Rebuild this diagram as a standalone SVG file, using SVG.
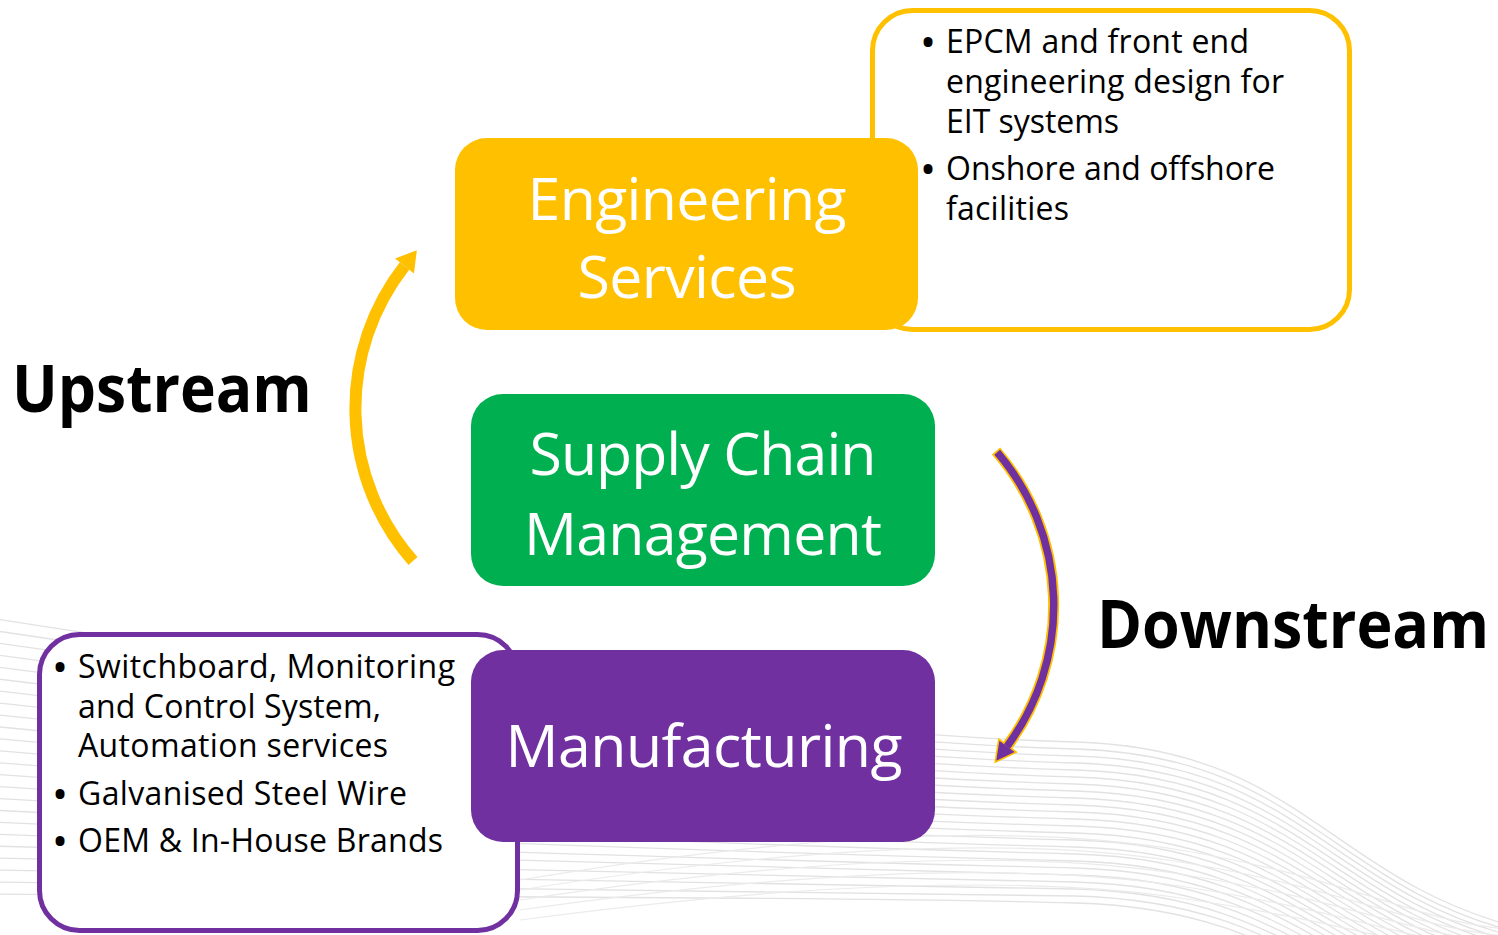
<svg xmlns="http://www.w3.org/2000/svg" width="1498" height="935" viewBox="0 0 1498 935">
  <style>
    .wave { fill: none; stroke: #e2e2e2; stroke-width: 1.3; }
    .wave2 { fill: none; stroke: #ebebeb; stroke-width: 1.2; }
    .box-title { font-family: "Open Sans", "Noto Sans", "Liberation Sans", sans-serif; font-size: 59px; fill: #ffffff; text-anchor: middle; }
    .bullet { font-family: "Open Sans", "Noto Sans", "Liberation Sans", sans-serif; font-size: 32px; fill: #000000; }
    .dot { font-family: "Open Sans", "Noto Sans", "Liberation Sans", sans-serif; font-size: 32px; font-weight: 700; fill: #000000; text-anchor: middle; }
    .side { font-family: "Open Sans", "Noto Sans", "Liberation Sans", sans-serif; font-size: 66px; font-weight: 700; fill: #000000; }
    .outline-yellow { fill: #ffffff; stroke: #FFC000; stroke-width: 5; }
    .outline-purple { fill: #ffffff; stroke: #7030A0; stroke-width: 5; }
  </style>
  <defs>
    <marker id="head-yellow" markerUnits="userSpaceOnUse" orient="auto" refX="0" refY="0" markerWidth="40" markerHeight="40" overflow="visible">
      <path d="M0,-12 L20,0 L0,12 Z" fill="#FFC000"/>
    </marker>
    <marker id="head-purple-edge" markerUnits="userSpaceOnUse" orient="auto" refX="0" refY="0" markerWidth="40" markerHeight="40" overflow="visible">
      <path d="M0,-9.5 L18,0 L0,9.5 Z" fill="#FFC000" stroke="#FFC000" stroke-width="3.2" stroke-linejoin="miter"/>
    </marker>
    <marker id="head-purple" markerUnits="userSpaceOnUse" orient="auto" refX="0" refY="0" markerWidth="40" markerHeight="40" overflow="visible">
      <path d="M0,-9.5 L18,0 L0,9.5 Z" fill="#7030A0"/>
    </marker>
  </defs>

  <rect x="0" y="0" width="1498" height="935" fill="#ffffff"/>

  <!-- faint background ribbon of wave lines -->
  <g id="background">
    <g class="wave">
      <path d="M-10,618 C450,690 850,736 1075,742 S1330,880 1520,928"/>
      <path d="M-10,630 C450,699 850,743 1075,749 S1330,886 1520,933"/>
      <path d="M-10,642 C450,708 850,750 1075,756 S1330,892 1520,938"/>
      <path d="M-10,654 C450,717 850,757 1075,763 S1330,898 1520,943"/>
      <path d="M-10,666 C450,726 850,764 1075,770 S1330,904 1520,948"/>
      <path d="M-10,678 C450,735 850,771 1075,777 S1330,910 1520,953"/>
      <path d="M-10,690 C450,744 850,778 1075,784 S1330,916 1520,958"/>
      <path d="M-10,702 C450,753 850,785 1075,791 S1330,922 1520,963"/>
      <path d="M-10,714 C450,762 850,792 1075,798 S1330,928 1520,968"/>
      <path d="M-10,726 C450,771 850,799 1075,805 S1330,934 1520,973"/>
      <path d="M-10,738 C450,780 850,806 1075,812 S1330,940 1520,978"/>
      <path d="M-10,750 C450,789 850,813 1075,819 S1330,946 1520,983"/>
      <path d="M-10,762 C450,798 850,820 1075,826 S1330,952 1520,988"/>
      <path d="M-10,774 C450,807 850,827 1075,833 S1330,958 1520,993"/>
      <path d="M-10,786 C450,816 850,834 1075,840 S1330,964 1520,998"/>
      <path d="M-10,798 C450,825 850,841 1075,847 S1330,970 1520,1003"/>
      <path d="M-10,810 C450,834 850,848 1075,854 S1330,976 1520,1008"/>
      <path d="M-10,822 C450,843 850,855 1075,861 S1330,982 1520,1013"/>
      <path d="M-10,834 C450,852 850,862 1075,868 S1330,988 1520,1018"/>
      <path d="M-10,846 C450,861 850,869 1075,875 S1330,994 1520,1023"/>
      <path d="M-10,858 C450,870 850,876 1075,882 S1330,1000 1520,1028"/>
      <path d="M-10,870 C450,879 850,883 1075,889 S1330,1006 1520,1033"/>
      <path d="M-10,882 C450,888 850,890 1075,896 S1330,1012 1520,1038"/>
      <path d="M-10,894 C450,897 850,897 1075,903 S1330,1018 1520,1043"/>
    </g>
    <g class="wave2">
      <path d="M520,880 C760,840 1000,820 1180,850 S1420,925 1520,930"/>
      <path d="M520,890 C760,852 1000,833 1180,862 S1420,932 1520,937"/>
      <path d="M520,900 C760,864 1000,846 1180,874 S1420,939 1520,944"/>
      <path d="M520,910 C760,876 1000,859 1180,886 S1420,946 1520,951"/>
      <path d="M520,920 C760,888 1000,872 1180,898 S1420,953 1520,958"/>
    </g>
  </g>

  <!-- detail panels (drawn beneath the coloured blocks) -->
  <g id="engineering-details">
    <rect class="outline-yellow" x="872.5" y="10.5" width="477" height="319" rx="40"/>
    <text class="dot" x="928" y="54">•</text>
    <text class="bullet" x="946" y="53" textLength="303">EPCM and front end</text>
    <text class="bullet" x="946" y="93" textLength="338">engineering design for</text>
    <text class="bullet" x="946" y="133" textLength="173">EIT systems</text>
    <text class="dot" x="928" y="181">•</text>
    <text class="bullet" x="946" y="180" textLength="329">Onshore and offshore</text>
    <text class="bullet" x="946" y="220" textLength="123">facilities</text>
  </g>

  <g id="manufacturing-details">
    <rect class="outline-purple" x="39.5" y="634.5" width="478" height="296" rx="40"/>
    <text class="dot" x="60" y="679">•</text>
    <text class="bullet" x="78" y="678" textLength="377">Switchboard, Monitoring</text>
    <text class="bullet" x="78" y="718" textLength="303">and Control System,</text>
    <text class="bullet" x="78" y="757" textLength="310">Automation services</text>
    <text class="dot" x="60" y="806">•</text>
    <text class="bullet" x="78" y="805" textLength="329">Galvanised Steel Wire</text>
    <text class="dot" x="60" y="853">•</text>
    <text class="bullet" x="78" y="852" textLength="365">OEM &amp; In-House Brands</text>
  </g>

  <!-- main blocks -->
  <g id="engineering-services">
    <rect x="455" y="138" width="463" height="192" rx="32" fill="#FFC000"/>
    <text class="box-title" x="687" y="220" textLength="319">Engineering</text>
    <text class="box-title" x="687" y="298" textLength="219">Services</text>
  </g>

  <g id="supply-chain-management">
    <rect x="471" y="394" width="464" height="192" rx="32" fill="#00B050"/>
    <text class="box-title" x="703" y="475" textLength="347">Supply Chain</text>
    <text class="box-title" x="703" y="555" textLength="358">Management</text>
  </g>

  <g id="manufacturing">
    <rect x="471" y="650" width="464" height="192" rx="32" fill="#7030A0"/>
    <text class="box-title" x="704" y="767" textLength="397">Manufacturing</text>
  </g>

  <!-- side labels: bold type narrowed horizontally to the label widths -->
  <g id="upstream-label" transform="translate(12,412) scale(0.9,1)">
    <text class="side" x="0" y="0" textLength="333" lengthAdjust="spacingAndGlyphs">Upstream</text>
  </g>
  <g id="downstream-label" transform="translate(1097,648) scale(0.918,1)">
    <text class="side" x="0" y="0" textLength="427" lengthAdjust="spacingAndGlyphs">Downstream</text>
  </g>

  <!-- connectors -->
  <g id="connectors">
    <path d="M413,561 A231,231 0 0 1 404.5,266" fill="none" stroke="#FFC000" stroke-width="12" marker-end="url(#head-yellow)"/>
    <path d="M996,451 A236,236 0 0 1 1007,746.4" fill="none" stroke="#FFC000" stroke-width="11" marker-end="url(#head-purple-edge)"/>
    <path d="M997.2,452.2 A236,236 0 0 1 1007,746.4" fill="none" stroke="#7030A0" stroke-width="7.5" marker-end="url(#head-purple)"/>
  </g>
</svg>
